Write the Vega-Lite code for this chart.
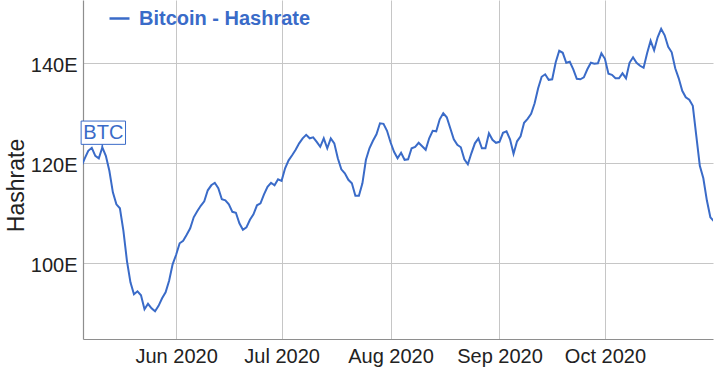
{
  "$schema": "https://vega.github.io/schema/vega-lite/v6.json",
  "width": 630,
  "height": 339,
  "autosize": {"type": "none"},
  "padding": {"left": 83, "top": 0, "right": 7, "bottom": 31},
  "background": "white",
  "config": {
    "font": "Liberation Sans",
    "view": {"stroke": null},
    "axis": {
      "labelFont": "Liberation Sans",
      "labelFontSize": 20,
      "labelColor": "#222222",
      "titleFont": "Liberation Sans",
      "titleColor": "#222222",
      "ticks": false,
      "grid": true,
      "gridColor": "#c6c6c6",
      "gridWidth": 1,
      "domainColor": "#8e8e8e",
      "domainWidth": 1.2
    }
  },
  "datasets": {
    "hashrate": [
      {"date": "2020-05-05", "value": 119.3},
      {"date": "2020-05-06", "value": 121.0},
      {"date": "2020-05-07", "value": 122.5},
      {"date": "2020-05-08", "value": 123.1},
      {"date": "2020-05-09", "value": 121.5},
      {"date": "2020-05-10", "value": 121.0},
      {"date": "2020-05-11", "value": 123.2},
      {"date": "2020-05-12", "value": 121.5},
      {"date": "2020-05-13", "value": 118.5},
      {"date": "2020-05-14", "value": 114.2},
      {"date": "2020-05-15", "value": 111.8},
      {"date": "2020-05-16", "value": 111.0},
      {"date": "2020-05-17", "value": 106.5},
      {"date": "2020-05-18", "value": 100.5},
      {"date": "2020-05-19", "value": 96.2},
      {"date": "2020-05-20", "value": 93.8},
      {"date": "2020-05-21", "value": 94.4},
      {"date": "2020-05-22", "value": 93.6},
      {"date": "2020-05-23", "value": 90.8},
      {"date": "2020-05-24", "value": 91.9},
      {"date": "2020-05-25", "value": 91.0},
      {"date": "2020-05-26", "value": 90.4},
      {"date": "2020-05-27", "value": 91.5},
      {"date": "2020-05-28", "value": 93.0},
      {"date": "2020-05-29", "value": 94.2},
      {"date": "2020-05-30", "value": 96.5},
      {"date": "2020-05-31", "value": 99.8},
      {"date": "2020-06-01", "value": 101.7},
      {"date": "2020-06-02", "value": 104.0},
      {"date": "2020-06-03", "value": 104.5},
      {"date": "2020-06-04", "value": 105.7},
      {"date": "2020-06-05", "value": 107.0},
      {"date": "2020-06-06", "value": 109.2},
      {"date": "2020-06-07", "value": 110.4},
      {"date": "2020-06-08", "value": 111.5},
      {"date": "2020-06-09", "value": 112.4},
      {"date": "2020-06-10", "value": 114.6},
      {"date": "2020-06-11", "value": 115.6},
      {"date": "2020-06-12", "value": 116.1},
      {"date": "2020-06-13", "value": 115.0},
      {"date": "2020-06-14", "value": 112.8},
      {"date": "2020-06-15", "value": 112.6},
      {"date": "2020-06-16", "value": 111.8},
      {"date": "2020-06-17", "value": 110.3},
      {"date": "2020-06-18", "value": 110.1},
      {"date": "2020-06-19", "value": 108.0},
      {"date": "2020-06-20", "value": 106.7},
      {"date": "2020-06-21", "value": 107.2},
      {"date": "2020-06-22", "value": 108.7},
      {"date": "2020-06-23", "value": 109.8},
      {"date": "2020-06-24", "value": 111.6},
      {"date": "2020-06-25", "value": 112.0},
      {"date": "2020-06-26", "value": 113.8},
      {"date": "2020-06-27", "value": 115.3},
      {"date": "2020-06-28", "value": 116.1},
      {"date": "2020-06-29", "value": 115.6},
      {"date": "2020-06-30", "value": 116.8},
      {"date": "2020-07-01", "value": 116.5},
      {"date": "2020-07-02", "value": 119.0},
      {"date": "2020-07-03", "value": 120.6},
      {"date": "2020-07-04", "value": 121.6},
      {"date": "2020-07-05", "value": 122.7},
      {"date": "2020-07-06", "value": 124.0},
      {"date": "2020-07-07", "value": 125.0},
      {"date": "2020-07-08", "value": 125.7},
      {"date": "2020-07-09", "value": 125.0},
      {"date": "2020-07-10", "value": 125.2},
      {"date": "2020-07-11", "value": 124.3},
      {"date": "2020-07-12", "value": 123.3},
      {"date": "2020-07-13", "value": 125.0},
      {"date": "2020-07-14", "value": 123.0},
      {"date": "2020-07-15", "value": 125.0},
      {"date": "2020-07-16", "value": 124.0},
      {"date": "2020-07-17", "value": 121.0},
      {"date": "2020-07-18", "value": 118.8},
      {"date": "2020-07-19", "value": 118.0},
      {"date": "2020-07-20", "value": 116.7},
      {"date": "2020-07-21", "value": 116.0},
      {"date": "2020-07-22", "value": 113.5},
      {"date": "2020-07-23", "value": 113.5},
      {"date": "2020-07-24", "value": 116.0},
      {"date": "2020-07-25", "value": 120.7},
      {"date": "2020-07-26", "value": 123.0},
      {"date": "2020-07-27", "value": 124.5},
      {"date": "2020-07-28", "value": 125.8},
      {"date": "2020-07-29", "value": 128.0},
      {"date": "2020-07-30", "value": 127.9},
      {"date": "2020-07-31", "value": 126.5},
      {"date": "2020-08-01", "value": 124.2},
      {"date": "2020-08-02", "value": 122.3},
      {"date": "2020-08-03", "value": 121.0},
      {"date": "2020-08-04", "value": 122.1},
      {"date": "2020-08-05", "value": 120.7},
      {"date": "2020-08-06", "value": 120.8},
      {"date": "2020-08-07", "value": 123.0},
      {"date": "2020-08-08", "value": 123.3},
      {"date": "2020-08-09", "value": 124.1},
      {"date": "2020-08-10", "value": 123.4},
      {"date": "2020-08-11", "value": 122.7},
      {"date": "2020-08-12", "value": 125.0},
      {"date": "2020-08-13", "value": 126.5},
      {"date": "2020-08-14", "value": 126.4},
      {"date": "2020-08-15", "value": 128.8},
      {"date": "2020-08-16", "value": 130.0},
      {"date": "2020-08-17", "value": 129.2},
      {"date": "2020-08-18", "value": 127.0},
      {"date": "2020-08-19", "value": 124.8},
      {"date": "2020-08-20", "value": 123.7},
      {"date": "2020-08-21", "value": 123.2},
      {"date": "2020-08-22", "value": 120.8},
      {"date": "2020-08-23", "value": 119.8},
      {"date": "2020-08-24", "value": 122.0},
      {"date": "2020-08-25", "value": 124.0},
      {"date": "2020-08-26", "value": 125.0},
      {"date": "2020-08-27", "value": 123.0},
      {"date": "2020-08-28", "value": 123.0},
      {"date": "2020-08-29", "value": 126.0},
      {"date": "2020-08-30", "value": 124.7},
      {"date": "2020-08-31", "value": 124.1},
      {"date": "2020-09-01", "value": 124.3},
      {"date": "2020-09-02", "value": 126.1},
      {"date": "2020-09-03", "value": 126.4},
      {"date": "2020-09-04", "value": 124.8},
      {"date": "2020-09-05", "value": 121.9},
      {"date": "2020-09-06", "value": 124.4},
      {"date": "2020-09-07", "value": 125.4},
      {"date": "2020-09-08", "value": 128.1},
      {"date": "2020-09-09", "value": 128.9},
      {"date": "2020-09-10", "value": 129.9},
      {"date": "2020-09-11", "value": 132.0},
      {"date": "2020-09-12", "value": 135.0},
      {"date": "2020-09-13", "value": 137.3},
      {"date": "2020-09-14", "value": 137.8},
      {"date": "2020-09-15", "value": 136.7},
      {"date": "2020-09-16", "value": 136.8},
      {"date": "2020-09-17", "value": 140.2},
      {"date": "2020-09-18", "value": 142.5},
      {"date": "2020-09-19", "value": 142.1},
      {"date": "2020-09-20", "value": 140.1},
      {"date": "2020-09-21", "value": 140.3},
      {"date": "2020-09-22", "value": 138.8},
      {"date": "2020-09-23", "value": 136.9},
      {"date": "2020-09-24", "value": 136.8},
      {"date": "2020-09-25", "value": 137.2},
      {"date": "2020-09-26", "value": 138.8},
      {"date": "2020-09-27", "value": 140.1},
      {"date": "2020-09-28", "value": 139.9},
      {"date": "2020-09-29", "value": 140.0},
      {"date": "2020-09-30", "value": 142.0},
      {"date": "2020-10-01", "value": 140.9},
      {"date": "2020-10-02", "value": 137.9},
      {"date": "2020-10-03", "value": 137.7},
      {"date": "2020-10-04", "value": 137.0},
      {"date": "2020-10-05", "value": 137.0},
      {"date": "2020-10-06", "value": 138.0},
      {"date": "2020-10-07", "value": 137.0},
      {"date": "2020-10-08", "value": 140.1},
      {"date": "2020-10-09", "value": 141.2},
      {"date": "2020-10-10", "value": 140.1},
      {"date": "2020-10-11", "value": 139.5},
      {"date": "2020-10-12", "value": 139.1},
      {"date": "2020-10-13", "value": 142.0},
      {"date": "2020-10-14", "value": 144.5},
      {"date": "2020-10-15", "value": 142.6},
      {"date": "2020-10-16", "value": 145.2},
      {"date": "2020-10-17", "value": 146.9},
      {"date": "2020-10-18", "value": 145.6},
      {"date": "2020-10-19", "value": 143.3},
      {"date": "2020-10-20", "value": 142.2},
      {"date": "2020-10-21", "value": 139.0},
      {"date": "2020-10-22", "value": 137.0},
      {"date": "2020-10-23", "value": 134.5},
      {"date": "2020-10-24", "value": 133.2},
      {"date": "2020-10-25", "value": 132.7},
      {"date": "2020-10-26", "value": 131.5},
      {"date": "2020-10-27", "value": 125.5},
      {"date": "2020-10-28", "value": 119.5},
      {"date": "2020-10-29", "value": 117.0},
      {"date": "2020-10-30", "value": 112.6},
      {"date": "2020-10-31", "value": 109.2},
      {"date": "2020-11-01", "value": 108.4}
    ],
    "annotation": [
      {"date": "2020-05-11", "value": 123.2, "label": "BTC"}
    ]
  },
  "layer": [
    {
      "data": {"name": "hashrate"},
      "mark": {"type": "line", "strokeWidth": 2, "clip": true, "interpolate": "linear"},
      "encoding": {
        "x": {
          "field": "date",
          "type": "temporal",
          "scale": {
            "type": "utc",
            "domain": [
              {"year": 2020, "month": 5, "date": 5, "hours": 12, "utc": true},
              {"year": 2020, "month": 10, "date": 31, "hours": 18, "utc": true}
            ],
            "nice": false
          },
          "axis": {
            "title": null,
            "format": "%b %Y",
            "values": [
              {"year": 2020, "month": 6, "date": 1, "utc": true},
              {"year": 2020, "month": 7, "date": 1, "utc": true},
              {"year": 2020, "month": 8, "date": 1, "utc": true},
              {"year": 2020, "month": 9, "date": 1, "utc": true},
              {"year": 2020, "month": 10, "date": 1, "utc": true}
            ],
            "labelPadding": 7,
            "labelFlush": false,
            "labelOverlap": false
          }
        },
        "y": {
          "field": "value",
          "type": "quantitative",
          "scale": {"domain": [84.86, 152.66], "nice": false, "zero": false},
          "axis": {
            "title": "Hashrate",
            "titleFontSize": 23,
            "titleFontWeight": "normal",
            "titleX": -59.5,
            "titleY": 185,
            "titleBaseline": "alphabetic",
            "titleAlign": "center",
            "titleAngle": -90,
            "values": [100, 120, 140],
            "labelExpr": "datum.label + 'E'",
            "format": "d",
            "labelPadding": 6,
            "labelBaseline": "middle",
            "labelOffset": 2
          }
        },
        "color": {
          "datum": "Bitcoin - Hashrate",
          "type": "nominal",
          "scale": {"range": ["#3a6bc8"]},
          "legend": {
            "title": null,
            "orient": "none",
            "legendX": 25,
            "legendY": 7,
            "padding": 0,
            "symbolType": "stroke",
            "symbolSize": 400,
            "symbolStrokeWidth": 2.5,
            "labelFont": "Liberation Sans",
            "labelFontSize": 20,
            "labelFontWeight": "bold",
            "labelColor": "#3a6bc8",
            "labelOffset": 8,
            "labelLimit": 500
          }
        }
      }
    },
    {
      "data": {"name": "annotation"},
      "mark": {"type": "rule", "color": "#3a6bc8", "strokeWidth": 1.5, "y2Offset": -3},
      "encoding": {
        "x": {"field": "date", "type": "temporal"},
        "y": {"field": "value", "type": "quantitative"},
        "y2": {"field": "value"}
      }
    },
    {
      "data": {"name": "annotation"},
      "mark": {"type": "rect", "width": 44.4, "height": 23.3, "fill": "white", "stroke": "#3a6bc8", "strokeWidth": 1, "yOffset": -14.6, "xOffset": 1},
      "encoding": {
        "x": {"field": "date", "type": "temporal"},
        "y": {"field": "value", "type": "quantitative"}
      }
    },
    {
      "data": {"name": "annotation"},
      "mark": {"type": "text", "fontSize": 20, "color": "#3a6bc8", "align": "center", "baseline": "middle", "yOffset": -14, "xOffset": 1},
      "encoding": {
        "x": {"field": "date", "type": "temporal"},
        "y": {"field": "value", "type": "quantitative"},
        "text": {"field": "label"}
      }
    }
  ]
}
